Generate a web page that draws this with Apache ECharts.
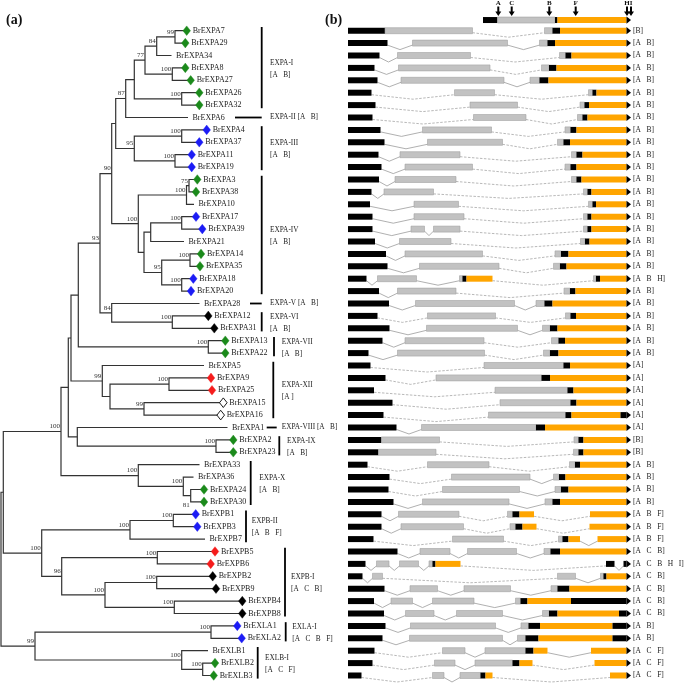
<!DOCTYPE html>
<html><head><meta charset="utf-8">
<script src="https://cdn.jsdelivr.net/npm/echarts@6/dist/echarts.min.js"></script>
<style>html,body{margin:0;padding:0;background:#fff}#c{width:685px;height:690px}</style>
</head><body><div id="c"></div>
<script>
// ---------------- DATA ----------------
const leafNames = ['BrEXPA7','BrEXPA29','BrEXPA34','BrEXPA8','BrEXPA27','BrEXPA26','BrEXPA32','BrEXPA6',
 'BrEXPA4','BrEXPA37','BrEXPA11','BrEXPA19','BrEXPA3','BrEXPA38','BrEXPA10','BrEXPA17','BrEXPA39','BrEXPA21',
 'BrEXPA14','BrEXPA35','BrEXPA18','BrEXPA20','BrEXPA28','BrEXPA12','BrEXPA31','BrEXPA13','BrEXPA22','BrEXPA5',
 'BrEXPA9','BrEXPA25','BrEXPA15','BrEXPA16','BrEXPA1','BrEXPA2','BrEXPA23','BrEXPA33','BrEXPA36','BrEXPA24',
 'BrEXPA30','BrEXPB1','BrEXPB3','BrEXPB7','BrEXPB5','BrEXPB6','BrEXPB2','BrEXPB9','BrEXPB4','BrEXPB8',
 'BrEXLA1','BrEXLA2','BrEXLB1','BrEXLB2','BrEXLB3'];
// g green, b blue, k black, r red, o open, - none
const leafMarks = ('gg-gggg-' + 'bbbbgg-bb-' + 'ggbb-kkgg-' + 'rroo-gg--gg' + 'bb-rrkkkkbb-gg').split('');
const leafTipX = [186.7,185.3,171.5,185.3,190.7,199.3,199.3,188,206.7,199.3,191.7,191.7,197.3,196,194,196,202.3,184,
 201,200,193.3,191,199.5,208.3,214.3,225.3,225.3,204,211,212,223.3,220.7,227.5,233.3,233.3,199.5,193.5,204,
 204,195.7,197.3,205,215,210.7,212.7,216,242.3,242.3,237.3,241.7,208,215,213.7];
// [name, depth, childA, childB, bootstrap]
const clades = [
 ['c1',175,'BrEXPA7','BrEXPA29',99],['c2',156.7,'c1','BrEXPA34',84],['c3',172.3,'BrEXPA8','BrEXPA27',100],
 ['c4',145,'c2','c3',77],['c5',181.7,'BrEXPA26','BrEXPA32',100],['c6',134.3,'c4','c5',null],
 ['c7',125.7,'c6','BrEXPA6',87],['c8',181.7,'BrEXPA4','BrEXPA37',100],['c9',175,'BrEXPA11','BrEXPA19',100],
 ['c10',134.3,'c8','c9',95],['c11',115.7,'c7','c10',null],['c12',189,'BrEXPA3','BrEXPA38',75],
 ['c13',186.5,'c12','BrEXPA10',100],['c14',181.7,'BrEXPA17','BrEXPA39',100],['c15',150.7,'c14','BrEXPA21',null],
 ['c16',190,'BrEXPA14','BrEXPA35',100],['c17',181.7,'BrEXPA18','BrEXPA20',100],['c18',161.7,'c16','c17',95],
 ['c19',144,'c15','c18',null],['c20',138.3,'c13','c19',100],['c21',111.7,'c11','c20',90],
 ['c22',172.3,'BrEXPA12','BrEXPA31',100],['c23',111.7,'BrEXPA28','c22',84],['c24',100,'c21','c23',93],
 ['c25',208.3,'BrEXPA13','BrEXPA22',100],['c26',78.3,'c24','c25',null],['c27',169,'BrEXPA9','BrEXPA25',100],
 ['c28',144,'BrEXPA15','BrEXPA16',99],['c29',110,'c27','c28',null],['c30',102.3,'BrEXPA5','c29',99],
 ['c31',71,'c26','c30',null],['c32',216,'BrEXPA2','BrEXPA23',100],['c33',77.3,'BrEXPA1','c32',null],
 ['c34',68.3,'c31','c33',null],['c35',190.7,'BrEXPA24','BrEXPA30',81],['c36',183.3,'BrEXPA36','c35',100],
 ['c37',138.3,'BrEXPA33','c36',100],['c38',61,'c34','c37',100],['c39',173.3,'BrEXPB1','BrEXPB3',100],
 ['c40',130,'c39','BrEXPB7',100],['c41',157.3,'BrEXPB5','BrEXPB6',100],['c42',156.7,'BrEXPB2','BrEXPB9',100],
 ['c43',174.3,'BrEXPB4','BrEXPB8',100],['c44',105,'c42','c43',100],['c45',61.7,'c41','c44',96],
 ['c46',41.7,'c40','c45',100],['c47',3.3,'c38','c46',null],['c48',211,'BrEXLA1','BrEXLA2',100],
 ['c49',202.7,'BrEXLB2','BrEXLB3',100],['c50',181.7,'BrEXLB1','c49',100],['c51',35,'c48','c50',99],
 ['c52',1,'c47','c51',null]
];
const groupNames = ['EXPA-I','EXPA-II [A   B]','EXPA-III','EXPA-IV','EXPA-V [A   B]','EXPA-VI','EXPA-VII','EXPA-XII',
 'EXPA-VIII [A   B]','EXPA-IX','EXPA-X','EXPB-II','EXPB-I','EXLA-I','EXLB-I'];
const groupTags = ['[A   B]','','[A   B]','[A   B]','','[A   B]','[A   B]','[A ]','','[A   B]','[A   B]',
 '[A   B   F]','[A   C   B]','[A   C   B   F]','[A   C   F]'];
const groupFirst = [0,7,8,12,22,23,25,27,32,33,35,39,42,48,50];
const groupLast  = [6,7,11,21,22,24,26,31,32,34,38,41,47,49,52];
// gene structures: [start, end, part] part k=black, g=grey, o=orange
const geneRows = [
 [[0,37,'k'],[37,124.5,'g'],[196.5,204.5,'g'],[204.5,212,'k'],[212,278.5,'o']],
 [[0,39.5,'k'],[64.5,159.5,'g'],[191.5,199.5,'g'],[199.5,207,'k'],[207,278.5,'o']],
 [[0,31.5,'k'],[49.5,122.5,'g'],[211.5,217.5,'g'],[217.5,223.5,'k'],[223.5,278.5,'o']],
 [[0,26.5,'k'],[50.5,142,'g'],[193.5,201,'g'],[201,208.5,'k'],[208.5,278.5,'o']],
 [[0,29.5,'k'],[53,156,'g'],[182,191.5,'g'],[191.5,200.5,'k'],[200.5,278.5,'o']],
 [[0,23.5,'k'],[106.5,146.5,'g'],[240.5,244.5,'g'],[244.5,248.5,'k'],[248.5,278.5,'o']],
 [[0,27.5,'k'],[122,169.5,'g'],[232,236.5,'g'],[236.5,241,'k'],[241,278.5,'o']],
 [[0,24.5,'k'],[125.5,178,'g'],[229.5,234.5,'g'],[234.5,239.5,'k'],[239.5,278.5,'o']],
 [[0,32.5,'k'],[74.5,143.5,'g'],[217,222.5,'g'],[222.5,228.5,'k'],[228.5,278.5,'o']],
 [[0,36.5,'k'],[79.5,154.5,'g'],[209.5,215.5,'g'],[215.5,222,'k'],[222,278.5,'o']],
 [[0,30.5,'k'],[52,112,'g'],[223.5,228.5,'g'],[228.5,234.5,'k'],[234.5,278.5,'o']],
 [[0,33.5,'k'],[57,124.5,'g'],[217,222.5,'g'],[222.5,228.5,'k'],[228.5,278.5,'o']],
 [[0,31,'k'],[47,108,'g'],[223.5,228.5,'g'],[228.5,233.5,'k'],[233.5,278.5,'o']],
 [[0,23.5,'k'],[36,85.5,'g'],[235.5,239.5,'g'],[239.5,243.5,'k'],[243.5,278.5,'o']],
 [[0,22,'k'],[66,110.5,'g'],[240.5,244.5,'g'],[244.5,248,'k'],[248,278.5,'o']],
 [[0,24.5,'k'],[66,116,'g'],[235.5,239.5,'g'],[239.5,243.5,'k'],[243.5,278.5,'o']],
 [[0,24.5,'k'],[63,76.5,'g'],[85.5,112,'g'],[235.5,239.5,'g'],[239.5,243.5,'k'],[243.5,278.5,'o']],
 [[0,27,'k'],[51.5,103,'g'],[232.5,237,'g'],[237,241.5,'k'],[241.5,278.5,'o']],
 [[0,38,'k'],[57,134.5,'g'],[207,213,'g'],[213,220.5,'k'],[220.5,278.5,'o']],
 [[0,39.5,'k'],[71.5,151,'g'],[205.5,212,'g'],[212,218.5,'k'],[218.5,278.5,'o']],
 [[0,18.5,'k'],[29.5,68.5,'g'],[111.5,114.5,'g'],[114.5,118.5,'k'],[118.5,144.5,'o'],[245.5,248,'g'],[248,252,'k'],[252,278.5,'o']],
 [[0,31,'k'],[49.5,108,'g'],[216,222,'g'],[222,227.5,'k'],[227.5,278.5,'o']],
 [[0,41,'k'],[67.5,166.5,'g'],[188,196.5,'g'],[196.5,204.5,'k'],[204.5,278.5,'o']],
 [[0,29.5,'k'],[79.5,147.5,'g'],[217.5,222.5,'g'],[222.5,228,'k'],[228,278.5,'o']],
 [[0,41.5,'k'],[78.5,169.5,'g'],[194.5,202,'g'],[202,209.5,'k'],[209.5,278.5,'o']],
 [[0,34.5,'k'],[57,136,'g'],[203.5,210.5,'g'],[210.5,217,'k'],[217,278.5,'o']],
 [[0,20.5,'k'],[49.5,136.5,'g'],[195.5,202,'g'],[202,210.5,'k'],[210.5,278.5,'o']],
 [[0,22.5,'k'],[136,215.5,'g'],[215.5,222,'k'],[222,278.5,'o']],
 [[0,37.5,'k'],[88,193.5,'g'],[193.5,202,'k'],[202,278.5,'o']],
 [[0,26,'k'],[147,219.5,'g'],[219.5,225.5,'k'],[225.5,278.5,'o']],
 [[0,44.5,'k'],[152,222.5,'g'],[222.5,228.5,'k'],[228.5,278.5,'o']],
 [[0,35.5,'k'],[140.5,217.5,'g'],[217.5,223.5,'k'],[223.5,272.5,'o'],[272.5,278.5,'k']],
 [[0,48.5,'k'],[73.5,188,'g'],[188,197,'k'],[197,278.5,'o']],
 [[0,33.5,'k'],[33.5,91.5,'g'],[226,230.5,'g'],[230.5,235.5,'k'],[235.5,278.5,'o']],
 [[0,30.5,'k'],[30.5,88,'g'],[225.5,230.5,'g'],[230.5,235.5,'k'],[235.5,278.5,'o']],
 [[0,19.5,'k'],[79.5,141,'g'],[221.5,227,'g'],[227,232,'k'],[232,278.5,'o']],
 [[0,41.5,'k'],[103.5,182,'g'],[205.5,211,'g'],[211,217.5,'k'],[217.5,278.5,'o']],
 [[0,40.5,'k'],[94.5,171.5,'g'],[207,213,'g'],[213,220.5,'k'],[220.5,278.5,'o']],
 [[0,45.5,'k'],[74.5,161,'g'],[197,204.5,'g'],[204.5,212,'k'],[212,278.5,'o']],
 [[0,33.5,'k'],[50.5,111,'g'],[159.5,164.5,'g'],[164.5,171.5,'k'],[171.5,186,'o'],[242,278.5,'o']],
 [[0,33.5,'k'],[53,115.5,'g'],[162,167.5,'g'],[167.5,174.5,'k'],[174.5,188.5,'o'],[241.5,278.5,'o']],
 [[0,25.5,'k'],[104.5,155.5,'g'],[210.5,214.5,'g'],[214.5,220.5,'k'],[220.5,232,'o'],[249.5,278.5,'o']],
 [[0,49.5,'k'],[72,102,'g'],[119.5,168.5,'g'],[196,202.5,'g'],[202.5,212,'k'],[212,278.5,'o']],
 [[0,17.5,'k'],[28.5,41,'g'],[51.5,70.5,'g'],[81,84.5,'g'],[84.5,87.5,'k'],[87.5,112.5,'o'],[258,266.5,'k'],[275.5,278.5,'k']],
 [[0,14.5,'k'],[24.5,34.5,'g'],[209.5,227.5,'g'],[252.5,255.5,'g'],[255.5,258.5,'k'],[258.5,278.5,'o']],
 [[0,36.5,'k'],[62,89.5,'g'],[116,162.5,'g'],[203,209.5,'g'],[209.5,221.5,'k'],[221.5,278.5,'o']],
 [[0,26,'k'],[43,64.5,'g'],[84.5,126,'g'],[167.5,172.5,'g'],[172.5,179.5,'k'],[179.5,223,'o'],[223,278.5,'k']],
 [[0,36,'k'],[57.5,86,'g'],[108.5,154.5,'g'],[194.5,201,'g'],[201,209.5,'k'],[209.5,271,'o'],[271,278.5,'k']],
 [[0,37.5,'k'],[62.5,147.5,'g'],[173,180.5,'g'],[180.5,192,'k'],[192,264.5,'o'],[264.5,278.5,'k']],
 [[0,34.5,'k'],[61.5,154.5,'g'],[169.5,177.5,'g'],[177.5,190.5,'k'],[190.5,264.5,'o'],[264.5,278.5,'k']],
 [[0,26.5,'k'],[94.5,117,'g'],[137,177.5,'g'],[177.5,185.5,'k'],[185.5,199.5,'o'],[243,278.5,'o']],
 [[0,24.5,'k'],[86.5,107,'g'],[127,164.5,'g'],[164.5,171.5,'k'],[171.5,184.5,'o'],[246.5,278.5,'o']],
 [[0,13.5,'k'],[84.5,96,'g'],[112,132.5,'g'],[132.5,137.5,'k'],[137.5,144.5,'o'],[262,278.5,'o']]
];
const geneTags = ['[B]'].concat(Array(19).fill('[A   B]'), ['[A   B   H]'], Array(6).fill('[A   B]'),
 Array(6).fill('[A]'), ['[B]','[B]'], Array(4).fill('[A   B]'), Array(3).fill('[A   B   F]'), ['[A   C   B]'],
 ['[A   C   B   H   I]'], Array(4).fill('[A   C   B]'), ['[A   B]','[A   B]'], Array(3).fill('[A   C   F]'));
const headerSegs = [[135,149.5,'k'],[149.5,207,'g'],[207,209.5,'k'],[209.5,278.5,'o']];
const motifNames = ['A','C','B','F','H','I'];
const motifPos = [150.3,163.7,201.3,227.7,279,283];

// ---------------- LAYOUT / STYLE ----------------
const FONT = '"Liberation Serif","Times New Roman",serif';
const markColors = {g:'#1b8a1b', b:'#1c1cf5', k:'#000', r:'#f51c1c', o:'#fff'};
const partColors = {k:'#000', g:'#c2c2c2', o:'#ffa500'};
const groupBarX = [261.7,261.7,261.7,261.7,261.7,261.7,274,273.3,276.7,279.3,250.7,246,285,285.7,257.7];
const groupBarStart = {1:235, 4:250, 8:266.7};
const groupLabelX = [270,270,270,270,270,270,281.7,281.7,281.7,287,259.3,251.7,291,292.3,265];
const headerRow = -0.86;
const rowMin = -2.476, rowMax = 53.17;

// ---------------- TREE COMPUTATION ----------------
const nodes = {};
leafNames.forEach((n, i) => nodes[n] = {x: leafTipX[i], y: i});
clades.forEach(([name, x, a, b, boot]) => {
  const A = nodes[a], B = nodes[b];
  nodes[name] = {x, y: (A.y + B.y) / 2, a: A, b: B, boot};
});
const edgeData = clades.map(c => { const n = nodes[c[0]]; return [n.x, n.y, n.a.x, n.a.y, n.b.x, n.b.y]; });
const bootItems = clades.filter(c => c[4] !== null);
const bootData = bootItems.map(c => [nodes[c[0]].x, nodes[c[0]].y]);

function txt(x, y, text, size, opts) {
  return {type: 'text', x, y, style: Object.assign({text, fontFamily: FONT, fontSize: size, fill: '#1a1a1a', align: 'left', verticalAlign: 'middle'}, opts || {})};
}

function drawGene(segs, cy, X, children) {
  for (let k = 1; k < segs.length; k++) {
    const e = segs[k - 1][1], s = segs[k][0];
    if (s - e > 1) {
      const x1 = X(e), x2 = X(s);
      const long = (x2 - x1) > 45;
      children.push({type: 'polyline', shape: {points: [[x1, cy + 2], [(x1 + x2) / 2, cy + 6.5], [x2, cy + 2]]},
        style: {stroke: long ? '#a6a6a6' : '#9c9c9c', lineWidth: 0.8, fill: null, lineDash: long ? [2.5, 1.5] : null}});
    }
  }
  segs.forEach(([s, e, c]) => {
    const x1 = X(s), x2 = X(e);
    children.push({type: 'rect', shape: {x: x1, y: cy - 3, width: x2 - x1, height: 6},
      style: c === 'g' ? {fill: partColors.g, stroke: '#a2a2a2', lineWidth: 0.6} : {fill: partColors[c]}});
  });
  const xe = X(segs[segs.length - 1][1]);
  children.push({type: 'polygon', shape: {points: [[xe, cy - 3.6], [xe + 4.5, cy], [xe, cy + 3.6]]}, style: {fill: '#000'}});
}

const option = {
  animation: false,
  backgroundColor: '#fff',
  title: [
    {text: '(a)', left: 6, top: 13, padding: 0, textStyle: {fontFamily: FONT, fontWeight: 'bold', fontSize: 14, color: '#111'}},
    {text: '(b)', left: 325, top: 13, padding: 0, textStyle: {fontFamily: FONT, fontWeight: 'bold', fontSize: 14, color: '#111'}}
  ],
  grid: [{left: 0, top: 0, width: 340, height: 690}, {left: 348, top: 0, width: 337, height: 690}],
  xAxis: [{type: 'value', gridIndex: 0, min: 0, max: 340, show: false},
          {type: 'value', gridIndex: 1, min: 0, max: 337, show: false}],
  yAxis: [{type: 'value', gridIndex: 0, min: rowMin, max: rowMax, inverse: true, show: false},
          {type: 'value', gridIndex: 1, min: rowMin, max: rowMax, inverse: true, show: false}],
  series: [
    { // tree branches
      type: 'custom', xAxisIndex: 0, yAxisIndex: 0, clip: false, data: edgeData, encode: {x: 0, y: 1},
      renderItem: (params, api) => {
        const pA = api.coord([api.value(2), api.value(3)]);
        const n1 = api.coord([api.value(0), api.value(3)]);
        const n2 = api.coord([api.value(0), api.value(5)]);
        const pB = api.coord([api.value(4), api.value(5)]);
        return {type: 'polyline', shape: {points: [pA, n1, n2, pB]}, style: {stroke: '#333', lineWidth: 1.2, fill: null}};
      }
    },
    { // bootstrap values
      type: 'custom', xAxisIndex: 0, yAxisIndex: 0, clip: false, data: bootData, encode: {x: 0, y: 1},
      renderItem: (params, api) => {
        const c = bootItems[params.dataIndex];
        const p = api.coord([api.value(0), api.value(1)]);
        const below = c[0] === 'c35';
        return txt(p[0] - 1, below ? p[1] + 5.5 : p[1] - 1.5, String(c[4]), 7,
          {align: 'right', verticalAlign: below ? 'top' : 'bottom', fill: '#333'});
      }
    },
    { // leaves
      type: 'custom', xAxisIndex: 0, yAxisIndex: 0, clip: false,
      data: leafNames.map((n, i) => [leafTipX[i], i]), encode: {x: 0, y: 1},
      renderItem: (params, api) => {
        const i = params.dataIndex, m = leafMarks[i];
        const p = api.coord([api.value(0), api.value(1)]);
        const ch = [];
        if (m !== '-') {
          ch.push({type: 'polygon', shape: {points: [[p[0], p[1] - 4.8], [p[0] + 3.8, p[1]], [p[0], p[1] + 4.8], [p[0] - 3.8, p[1]]]},
            style: {fill: markColors[m], stroke: m === 'o' ? '#000' : markColors[m], lineWidth: m === 'o' ? 0.9 : 0.4}});
        }
        ch.push(txt(p[0] + (m === '-' ? 4.5 : 6), p[1], leafNames[i], 8, {fill: '#222'}));
        return {type: 'group', children: ch};
      }
    },
    { // clade groups
      type: 'custom', xAxisIndex: 0, yAxisIndex: 0, clip: false,
      data: groupNames.map((n, i) => [groupBarX[i], (groupFirst[i] + groupLast[i]) / 2]), encode: {x: 0, y: 1},
      renderItem: (params, api) => {
        const i = params.dataIndex;
        const ch = [];
        const lx = api.coord([groupLabelX[i], 0])[0];
        if (groupFirst[i] === groupLast[i]) {
          const a = api.coord([groupBarStart[i], groupFirst[i]]);
          const b = api.coord([groupBarX[i], groupFirst[i]]);
          ch.push({type: 'line', shape: {x1: a[0], y1: a[1], x2: b[0], y2: b[1]}, style: {stroke: '#000', lineWidth: 1.8}});
          ch.push(txt(lx, a[1], groupNames[i], 7.3));
        } else {
          const a = api.coord([groupBarX[i], groupFirst[i] - 0.3]);
          const b = api.coord([groupBarX[i], groupLast[i] + 0.25]);
          ch.push({type: 'line', shape: {x1: a[0], y1: a[1], x2: b[0], y2: b[1]}, style: {stroke: '#000', lineWidth: 1.8}});
          const my = (a[1] + b[1]) / 2;
          ch.push(txt(lx, my - 5, groupNames[i], 7.3));
          ch.push(txt(lx, my + 7, groupTags[i], 7.3));
        }
        return {type: 'group', children: ch};
      }
    },
    { // gene structures
      type: 'custom', xAxisIndex: 1, yAxisIndex: 1, clip: false,
      data: geneRows.map((r, i) => [0, i]), encode: {x: 0, y: 1},
      renderItem: (params, api) => {
        const r = params.dataIndex;
        const cy = api.coord([0, r])[1];
        const X = v => api.coord([v, r])[0];
        const ch = [];
        drawGene(geneRows[r], cy, X, ch);
        ch.push(txt(X(285), cy, geneTags[r], 7.5, {fill: '#222'}));
        return {type: 'group', children: ch};
      }
    },
    { // header structure
      type: 'custom', xAxisIndex: 1, yAxisIndex: 1, clip: false,
      data: [[0, headerRow]], encode: {x: 0, y: 1},
      renderItem: (params, api) => {
        const cy = api.coord([0, api.value(1)])[1];
        const X = v => api.coord([v, api.value(1)])[0];
        const ch = [];
        drawGene(headerSegs, cy, X, ch);
        return {type: 'group', children: ch};
      }
    },
    { // motif arrows
      type: 'custom', xAxisIndex: 1, yAxisIndex: 1, clip: false,
      data: motifPos.map(p => [p, headerRow]), encode: {x: 0, y: 1},
      renderItem: (params, api) => {
        const p = api.coord([api.value(0), api.value(1)]);
        const x = p[0], cy = p[1];
        return {type: 'group', children: [
          {type: 'polygon', shape: {points: [[x - 1, cy - 13.5], [x + 1, cy - 13.5], [x + 1, cy - 8.5], [x + 3, cy - 8.5], [x, cy - 4], [x - 3, cy - 8.5], [x - 1, cy - 8.5]]}, style: {fill: '#000'}},
          txt(x, cy - 16.5, motifNames[params.dataIndex], 7, {align: 'center', fontWeight: 'bold', fill: '#111'})
        ]};
      }
    }
  ]
};
const chart = echarts.init(document.getElementById('c'), null, {renderer: 'canvas'});
chart.setOption(option);
</script></body></html>
